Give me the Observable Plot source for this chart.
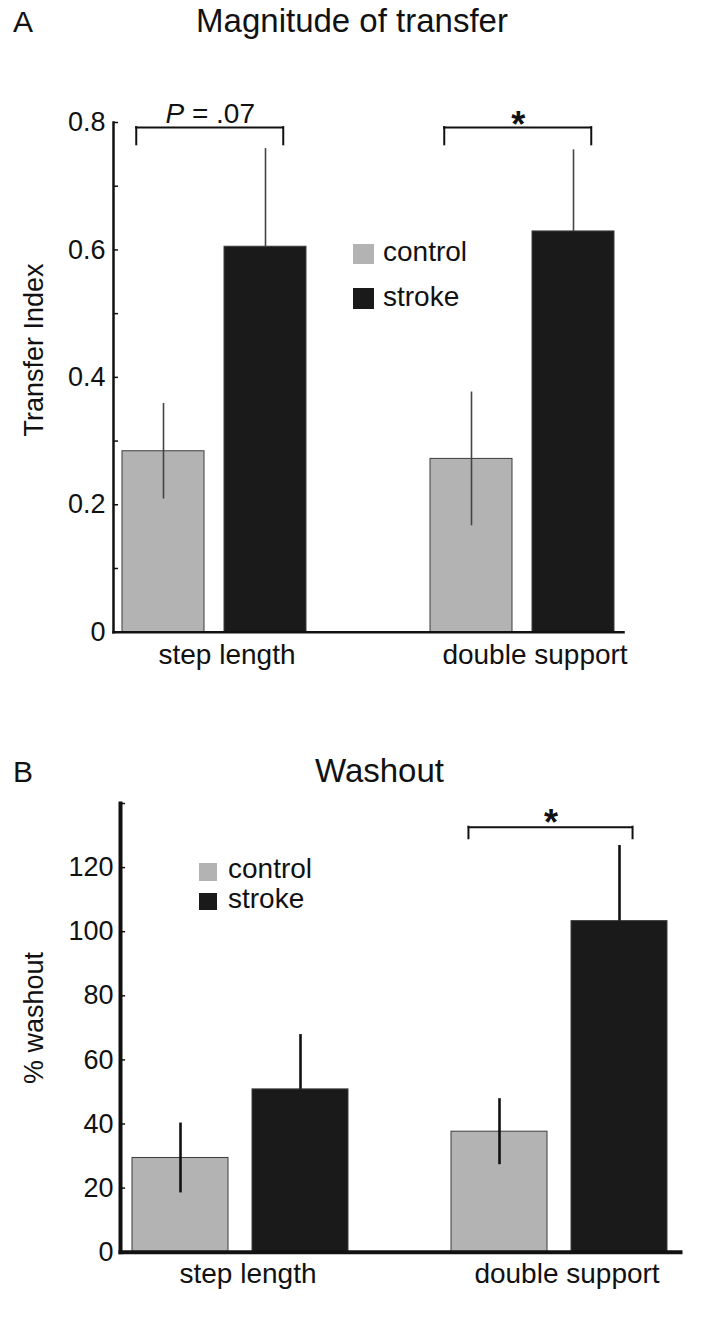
<!DOCTYPE html>
<html>
<head>
<meta charset="utf-8">
<script src="https://cdn.jsdelivr.net/npm/d3@7"></script>
<script src="https://cdn.jsdelivr.net/npm/@observablehq/plot@0.6"></script>
<style>
  html, body { margin: 0; padding: 0; background: #fff; }
  #page { position: relative; width: 707px; height: 1327px; overflow: hidden;
          font-family: "Liberation Sans", Arial, Helvetica, sans-serif; color: #111; }
  .abs { position: absolute; line-height: 1; white-space: nowrap; }
  .panel { position: absolute; left: 0; width: 707px; }
  .rot { transform: translate(-50%, -50%) rotate(-90deg); transform-origin: center; }
</style>
</head>
<body>
<div id="page"></div>
<script>
// ---------- data ----------
const categories = ["step length", "double support"];
const groups = ["control", "stroke"];
const groupColors = ["#b3b3b3", "#1a1a1a"];

// Panel A: Magnitude of transfer (Transfer Index), mean and error
const transferControl = [0.284, 0.272];
const transferControlErr = [0.075, 0.105];
const transferStroke = [0.605, 0.629];
const transferStrokeErr = [0.154, 0.128];
const transferTickLabels = [0, 0.2, 0.4, 0.6, 0.8];
const transferTickMarks = [0, 0.1, 0.2, 0.3, 0.4, 0.5, 0.6, 0.7, 0.8];
const transferSigCategories = ["step length", "double support"];
const transferSigLabels = ["P = .07", "*"];

// Panel B: Washout (%), mean and error
const washoutControl = [29.4, 37.6];
const washoutControlErr = [10.9, 10.3];
const washoutStroke = [50.8, 103.3];
const washoutStrokeErr = [17.1, 23.6];
const washoutTickLabels = [0, 20, 40, 60, 80, 100, 120];
const washoutTickMarks = [0, 20, 40, 60, 80, 100, 120, 140];
const washoutSigCategories = ["double support"];
const washoutSigLabels = ["*"];

const FONT = "'Liberation Sans', Arial, Helvetica, sans-serif";

function makePanel(cfg) {
  const s = cfg.style;
  const data = categories.flatMap((c, i) => [
    {category: c, group: groups[0], value: cfg.control[i], err: cfg.controlErr[i]},
    {category: c, group: groups[1], value: cfg.stroke[i], err: cfg.strokeErr[i]}
  ]);
  const sig = cfg.sigCategories.map((c, i) => ({category: c, label: cfg.sigLabels[i]}));
  const pSig = sig.filter(d => d.label !== "*");
  const starSig = sig.filter(d => d.label === "*");
  const tickDxL = s.brInsetL - s.barWidth / 2;
  const tickDxR = s.barWidth / 2 - s.brInsetR;
  const midDx = (tickDxL + s.barStep + tickDxR) / 2;
  const br = {stroke: "#111", strokeWidth: 2, strokeLinecap: "square"};
  return Plot.plot({
    width: 707,
    height: s.height,
    marginTop: s.marginTop,
    marginBottom: s.marginBottom,
    marginLeft: s.marginLeft,
    marginRight: s.marginRight,
    style: {fontFamily: FONT, color: "#111", background: "transparent", overflow: "visible"},
    fx: {domain: categories, paddingInner: s.fxPadIn, paddingOuter: s.fxPadOut, align: 0, label: null},
    x: {domain: groups, paddingInner: s.xPadIn, paddingOuter: s.xPadOut, axis: null},
    y: {domain: cfg.domain},
    color: {domain: groups, range: groupColors},
    marks: [
      Plot.barY(data, {fx: "category", x: "group", y: "value", fill: "group", stroke: "#3c3c3c", strokeWidth: 1}),
      Plot.ruleX(data, {
        fx: "category", x: "group",
        y1: d => d.group === "control" ? d.value - d.err : d.value,
        y2: d => d.value + d.err,
        stroke: s.errColor, strokeWidth: s.errWidth
      }),
      Plot.frame({anchor: "left", facet: "super", stroke: "#111", strokeWidth: s.axisWidth}),
      Plot.frame({anchor: "bottom", facet: "super", stroke: "#111", strokeWidth: s.axisWidth}),
      Plot.axisY(cfg.tickMarks, {tickSize: 5, insetLeft: 5, fill: "none", label: null, stroke: "#111", strokeWidth: 1.5}),
      Plot.axisY(cfg.tickLabels, {tickSize: 0, tickPadding: s.tickPadding, fontSize: s.tickFont, tickFormat: d => String(d), label: null}),
      Plot.axisFx({anchor: "bottom", tickSize: 0, tickPadding: s.xPad, fontSize: s.xFont, dx: s.xDx, label: null}),
      // significance brackets
      Plot.ruleY(sig, {fx: "category", x1: () => "control", x2: () => "stroke", y: () => s.bracketY,
        insetLeft: s.brInsetL, insetRight: s.brInsetR, ...br}),
      Plot.ruleX(sig, {fx: "category", x: () => "control", y1: () => s.bracketY, y2: () => s.bracketFoot, dx: tickDxL, ...br}),
      Plot.ruleX(sig, {fx: "category", x: () => "stroke", y1: () => s.bracketY, y2: () => s.bracketFoot, dx: tickDxR, ...br}),
      Plot.text(pSig, {fx: "category", x: () => "control", y: () => s.bracketY,
        text: d => d.label.split(" ")[0], dx: midDx - 26, dy: -5, textAnchor: "end", lineAnchor: "bottom",
        fontStyle: "italic", fontSize: 28, fill: "#111"}),
      Plot.text(pSig, {fx: "category", x: () => "control", y: () => s.bracketY,
        text: d => "\u00a0" + d.label.split(" ").slice(1).join(" "), dx: midDx - 26, dy: -5, textAnchor: "start", lineAnchor: "bottom",
        fontSize: 28, fill: "#111"}),
      Plot.text(starSig, {fx: "category", x: () => "control", y: () => s.bracketY,
        text: "label", dx: midDx, dy: s.starDy, lineAnchor: "bottom", fontSize: 36, fontWeight: "bold", fill: "#111"})
    ]
  });
}

const page = document.getElementById("page");

function addText(txt, opts) {
  const d = document.createElement("div");
  d.className = "abs" + (opts.rot ? " rot" : "");
  d.textContent = txt;
  d.style.fontSize = opts.fs + "px";
  if (opts.weight) d.style.fontWeight = opts.weight;
  if (opts.rot) {
    d.style.left = opts.cx + "px";
    d.style.top = opts.cy + "px";
  } else {
    d.style.top = (opts.baseline - 0.8465 * opts.fs) + "px";
    if (opts.center != null) { d.style.left = opts.center + "px"; d.style.transform = "translateX(-50%)"; }
    else d.style.left = opts.left + "px";
  }
  page.appendChild(d);
}

function addLegend(o) {
  groups.forEach((g, i) => {
    const sq = document.createElement("div");
    sq.className = "abs";
    sq.style.left = o.sqLeft + "px";
    sq.style.top = (o.sqTop + i * o.rowGap) + "px";
    sq.style.width = o.sq + "px";
    sq.style.height = o.sq + "px";
    sq.style.background = groupColors[i];
    page.appendChild(sq);
    addText(g, {fs: o.fs, left: o.textLeft, baseline: o.baseline + i * o.rowGap});
  });
}

// ---------- Panel A ----------
const panelA = document.createElement("div");
panelA.className = "panel";
panelA.style.top = "0px";
panelA.appendChild(makePanel({
  control: transferControl, controlErr: transferControlErr,
  stroke: transferStroke, strokeErr: transferStrokeErr,
  domain: [0, 0.8], tickLabels: transferTickLabels, tickMarks: transferTickMarks,
  sigCategories: transferSigCategories, sigLabels: transferSigLabels,
  style: {
    height: 690, marginTop: 122, marginBottom: 58.3, marginLeft: 113, marginRight: 57,
    fxPadIn: 0.343, fxPadOut: 0.041, xPadIn: 0.197, xPadOut: 0.085,
    barWidth: 82.5, barStep: 102.8,
    errColor: "#444", errWidth: 1.6, axisWidth: 2.5,
    tickPadding: 8, tickFont: 27, xPad: 12, xFont: 28, xDx: 12.5,
    bracketY: 0.792, bracketFoot: 0.765, brInsetL: 14, brInsetR: 23.5, starDy: 9
  }
}));
page.appendChild(panelA);

// ---------- Panel B ----------
const panelB = document.createElement("div");
panelB.className = "panel";
panelB.style.top = "690px";
panelB.appendChild(makePanel({
  control: washoutControl, controlErr: washoutControlErr,
  stroke: washoutStroke, strokeErr: washoutStrokeErr,
  domain: [0, 140], tickLabels: washoutTickLabels, tickMarks: washoutTickMarks,
  sigCategories: washoutSigCategories, sigLabels: washoutSigLabels,
  style: {
    height: 637, marginTop: 113, marginBottom: 75.3, marginLeft: 120, marginRight: 0,
    fxPadIn: 0.243, fxPadOut: 0.041, xPadIn: 0.196, xPadOut: 0.0965,
    barWidth: 97.5, barStep: 121.2,
    errColor: "#111", errWidth: 2.6, axisWidth: 4,
    tickPadding: 7, tickFont: 27, xPad: 11, xFont: 28, xDx: 7,
    bracketY: 132.6, bracketFoot: 129, brInsetL: 17.7, brInsetR: 35.7, starDy: 8
  }
}));
page.appendChild(panelB);

// ---------- titles, panel letters, axis labels, legends ----------
addText("A", {fs: 30, left: 13, baseline: 32});
addText("Magnitude of transfer", {fs: 33, center: 352, baseline: 32});
addText("Transfer Index", {fs: 27, rot: true, cx: 33.9, cy: 350});
addLegend({sqLeft: 353, sqTop: 243.5, sq: 20.5, rowGap: 44.8, textLeft: 383, baseline: 261.5, fs: 28});

addText("B", {fs: 30, left: 13, baseline: 782});
addText("Washout", {fs: 33, center: 379.5, baseline: 782});
addText("% washout", {fs: 27, rot: true, cx: 33.6, cy: 1018});
addLegend({sqLeft: 199, sqTop: 863, sq: 17.5, rowGap: 29.5, textLeft: 228, baseline: 879, fs: 28});
</script>
</body>
</html>
